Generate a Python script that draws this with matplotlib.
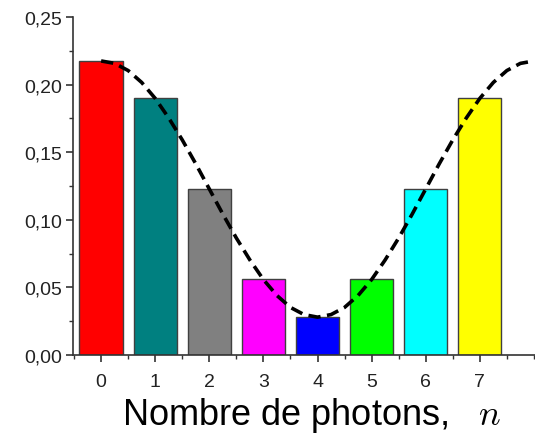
import numpy as np
import matplotlib.pyplot as plt
from matplotlib.ticker import MultipleLocator, FuncFormatter

# Bar data (photon number distribution)
n_photons = [0, 1, 2, 3, 4, 5, 6, 7]
probabilities = [0.2175, 0.190, 0.1225, 0.056, 0.028, 0.056, 0.1225, 0.190]
bar_colors = ["#ff0000", "#008080", "#808080", "#ff00ff",
              "#0000ff", "#00ff00", "#00ffff", "#ffff00"]

# Dashed envelope, every 0.25
curve_x = [0, 0.25, 0.5, 0.75, 1, 1.25, 1.5, 1.75, 2, 2.25, 2.5, 2.75, 3,
           3.25, 3.5, 3.75, 4, 4.25, 4.5, 4.75, 5, 5.25, 5.5, 5.75, 6,
           6.25, 6.5, 6.75, 7, 7.25, 7.5, 7.75, 8]
curve_y = [0.2175, 0.2157, 0.2104, 0.2016, 0.1898, 0.1753, 0.1591, 0.1414,
           0.1228, 0.1042, 0.0865, 0.0703, 0.0558, 0.0440, 0.0352, 0.0299,
           0.0280, 0.0299, 0.0352, 0.0440, 0.0558, 0.0703, 0.0865, 0.1042,
           0.1228, 0.1414, 0.1591, 0.1753, 0.1898, 0.2016, 0.2104, 0.2157,
           0.2175]

plt.rcParams['font.family'] = ['Liberation Sans', 'DejaVu Sans']
plt.rcParams['mathtext.fontset'] = 'cm'

fig = plt.figure(figsize=(5.35, 4.35), dpi=100)
ax = fig.add_axes([0.1364, 0.1816, 0.8636, 0.777])

ax.bar(n_photons, probabilities, width=0.8, color=bar_colors,
       edgecolor="#404040", linewidth=1.0, zorder=2)
ax.plot(curve_x, curve_y, color="black", linewidth=2.6,
        linestyle=(0, (3.4, 1.8)), zorder=3)

ax.set_xlim(-0.52, 8.02)
ax.set_ylim(0, 0.25)

ax.spines['top'].set_visible(False)
ax.spines['right'].set_visible(False)
for s in ('left', 'bottom'):
    ax.spines[s].set_color("#333333")
    ax.spines[s].set_linewidth(1.2)

ax.xaxis.set_major_locator(MultipleLocator(1))
ax.xaxis.set_minor_locator(MultipleLocator(0.5))
ax.yaxis.set_major_locator(MultipleLocator(0.05))
ax.yaxis.set_minor_locator(MultipleLocator(0.025))
ax.yaxis.set_major_formatter(FuncFormatter(lambda v, p: f"{v:.2f}".replace(".", ",")))
ax.set_xticks(n_photons)

ax.tick_params(which='major', direction='out', length=5, width=1.2,
               color="#333333", labelsize=14, labelcolor="#222222")
ax.tick_params(axis='x', which='major', pad=8)
ax.tick_params(axis='y', which='major', pad=3)
ax.tick_params(which='minor', direction='out', length=3, width=1.0,
               color="#333333")

ax.set_xlabel("Nombre de photons,  $\\;n$", fontsize=26)
ax.xaxis.set_label_coords(0.517, -0.204, transform=ax.transAxes)
ax.xaxis.label.set_va('baseline')

fig.savefig("out.png", dpi=100)
